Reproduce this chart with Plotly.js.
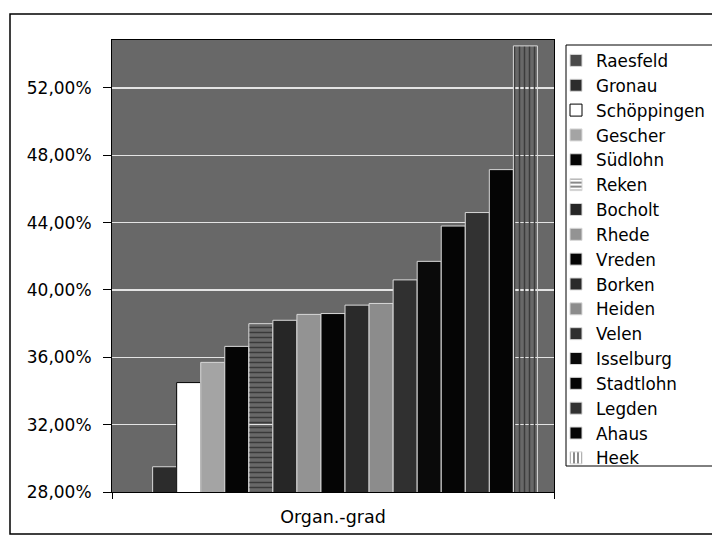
<!DOCTYPE html>
<html>
<head>
<meta charset="utf-8">
<script src="https://cdn.plot.ly/plotly-3.0.1.min.js"></script>
<style>html,body{margin:0;padding:0;background:#fff;}#chart{width:712px;height:539px;}</style>
</head>
<body>
<div id="chart"></div>
<script>
// Data
var category = ['Organ.-grad'];
var municipalities = ['Raesfeld','Gronau','Schöppingen','Gescher','Südlohn','Reken','Bocholt','Rhede','Vreden','Borken','Heiden','Velen','Isselburg','Stadtlohn','Legden','Ahaus','Heek'];
var rates = [27.8, 29.5, 34.5, 35.7, 36.65, 38.0, 38.2, 38.55, 38.6, 39.1, 39.2, 40.6, 41.7, 43.8, 44.6, 47.15, 54.5];
var yTicks = [28, 32, 36, 40, 44, 48, 52];
var yTickLabels = ['28,00%', '32,00%', '36,00%', '40,00%', '44,00%', '48,00%', '52,00%'];

// Styles (approximating the printed grey patterns)
var fills = ['#4a4a4a','#2c2c2c','#ffffff','#a4a4a4','#050505','#8a8a8a','#262626','#939393','#050505','#2a2a2a','#8c8c8c','#303030','#0a0a0a','#050505','#323232','#050505','#a0a0a0'];
var shapes = ['','','','','','-','','','','','','','','','','','|'];
var fgs = ['#000','#000','#000','#000','#000','#3a3a3a','#000','#000','#000','#000','#000','#000','#000','#000','#000','#000','#3c3c3c'];

var traces = municipalities.map(function(name, i){
  var m = {
    color: fills[i],
    line: {color: i === 2 ? '#000000' : '#d8d8d8', width: 1}
  };
  if (shapes[i]) m.pattern = {shape: shapes[i], fgcolor: fgs[i], size: 5, solidity: 0.3};
  return {
    type: 'bar',
    name: name,
    x: category,
    y: [rates[i]],
    marker: m,
    hoverinfo: 'name+y'
  };
});

var L = 112, R = 554, T = 40, B = 492, W = 712, H = 539;
function px(x){ return (x - L) / (R - L); }
function py(y){ return (B - y) / (B - T); }

var layout = {
  width: W, height: H,
  margin: {l: L, r: W - R, t: T, b: H - B, pad: 0, autoexpand: false},
  paper_bgcolor: '#ffffff',
  plot_bgcolor: '#686868',
  font: {family: 'DejaVu Sans, Arial, sans-serif', color: '#000000', size: 17},
  barmode: 'group',
  bargap: 0.075,
  bargroupgap: 0,
  showlegend: true,
  legend: {
    x: px(556), y: py(43), xanchor: 'left', yanchor: 'top',
    bgcolor: 'rgba(0,0,0,0)', borderwidth: 0,
    font: {size: 16.8, family: 'DejaVu Sans, Arial, sans-serif'},
    traceorder: 'normal'
  },
  xaxis: {
    type: 'category',
    showline: true, linecolor: '#000000', linewidth: 1, mirror: true,
    ticks: 'outside', ticklen: 6, tickcolor: '#000000', tickson: 'boundaries',
    showgrid: false,
    tickfont: {size: 17.5},
    ticklabelstandoff: 9
  },
  yaxis: {
    range: [28, 54.85],
    tickvals: yTicks,
    ticktext: yTickLabels,
    showline: true, linecolor: '#000000', linewidth: 1, mirror: true,
    ticks: 'outside', ticklen: 8, tickcolor: '#000000',
    ticklabelstandoff: 8,
    showgrid: true, gridcolor: '#e4e4e4', gridwidth: 1.5,
    zeroline: false,
    tickfont: {size: 17}
  },
  shapes: [
    {type: 'rect', xref: 'paper', yref: 'paper', x0: px(10), x1: px(725), y0: py(534), y1: py(14),
     line: {color: '#000000', width: 1.5}, fillcolor: 'rgba(0,0,0,0)', layer: 'below'},
    {type: 'rect', xref: 'paper', yref: 'paper', x0: px(566), x1: px(725), y0: py(466), y1: py(45),
     line: {color: '#000000', width: 1}, fillcolor: 'rgba(0,0,0,0)'}
  ]
};

Plotly.newPlot('chart', traces, layout, {displayModeBar: false, staticPlot: true});
</script>
</body>
</html>
